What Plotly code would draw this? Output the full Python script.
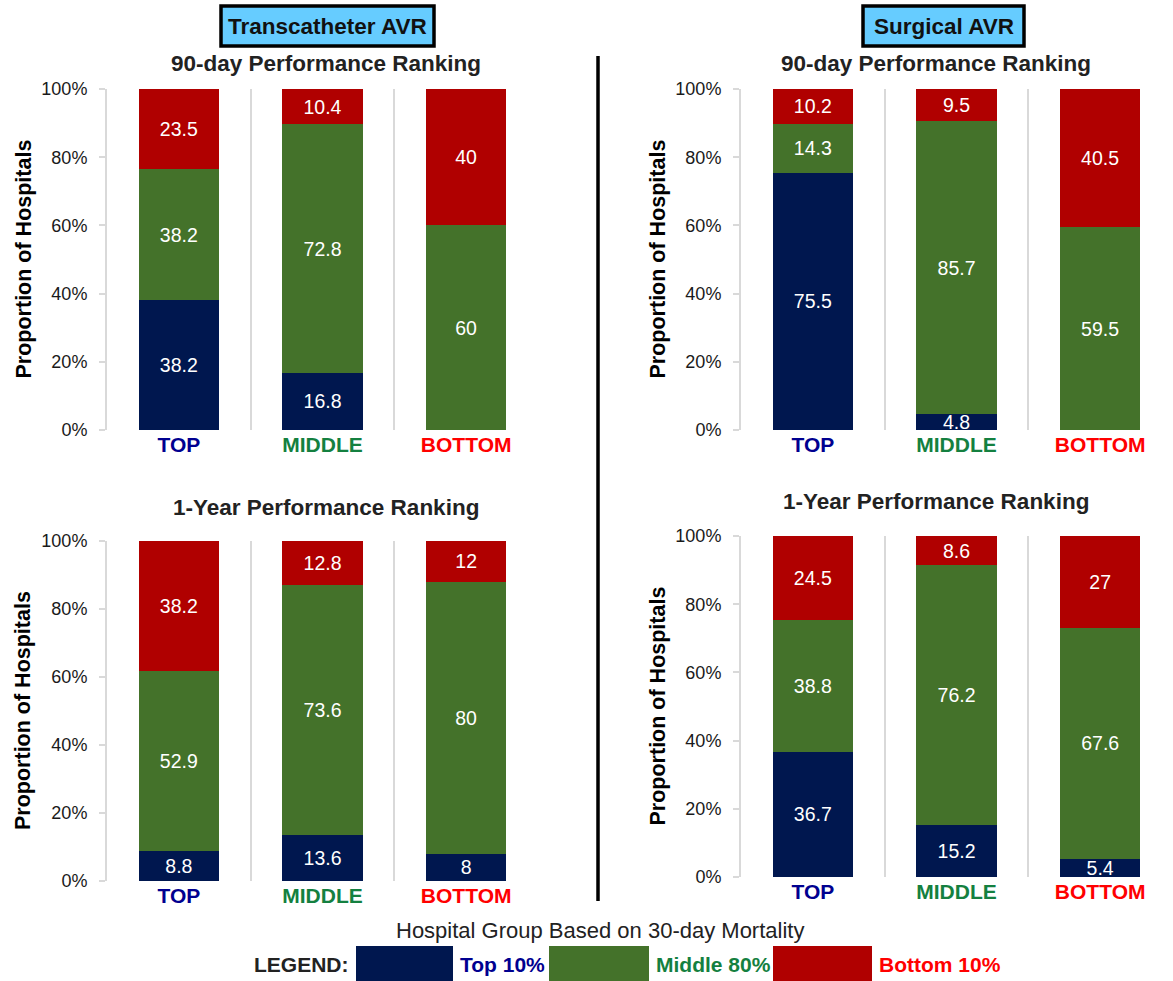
import plotly.graph_objects as go

W, H = 1173, 981

# ---------------- data ----------------
categories = ["TOP", "MIDDLE", "BOTTOM"]
category_colors = ["#000090", "#148040", "#FF0000"]
series_names = ["Top 10%", "Middle 80%", "Bottom 10%"]
series_colors = ["#00174F", "#44722A", "#B00000"]

# Transcatheter AVR, 90-day ranking (per group: Top, Middle, Bottom share)
tavr_90_top10 = [38.2, 16.8, 0]
tavr_90_mid80 = [38.2, 72.8, 60]
tavr_90_bot10 = [23.5, 10.4, 40]
# Transcatheter AVR, 1-year ranking
tavr_1y_top10 = [8.8, 13.6, 8]
tavr_1y_mid80 = [52.9, 73.6, 80]
tavr_1y_bot10 = [38.2, 12.8, 12]
# Surgical AVR, 90-day ranking
savr_90_top10 = [75.5, 4.8, 0]
savr_90_mid80 = [14.3, 85.7, 59.5]
savr_90_bot10 = [10.2, 9.5, 40.5]
# Surgical AVR, 1-year ranking
savr_1y_top10 = [36.7, 15.2, 5.4]
savr_1y_mid80 = [38.8, 76.2, 67.6]
savr_1y_bot10 = [24.5, 8.6, 27]

y_ticks = [0, 20, 40, 60, 80, 100]
y_ticklabels = ["0%", "20%", "40%", "60%", "80%", "100%"]
panel_titles = ["90-day Performance Ranking", "1-Year Performance Ranking"]
group_titles = ["Transcatheter AVR", "Surgical AVR"]
y_title = "Proportion of Hospitals"
legend_title = "Hospital Group Based on 30-day Mortality"
legend_lead = "LEGEND:"

FONT = "Liberation Sans, Arial, sans-serif"


def px(x):
    return x / W


def py(y):
    return 1 - y / H


# panel layout in pixels: (left, right, top, bottom)
panels = [
    dict(series=[tavr_90_top10, tavr_90_mid80, tavr_90_bot10], box=(107, 538, 89, 430),
         title=panel_titles[0], title_x=326, title_y=64, ytitle_x=23),
    dict(series=[savr_90_top10, savr_90_mid80, savr_90_bot10], box=(741, 1172, 89, 430),
         title=panel_titles[0], title_x=936, title_y=64, ytitle_x=657),
    dict(series=[tavr_1y_top10, tavr_1y_mid80, tavr_1y_bot10], box=(107, 538, 541, 881),
         title=panel_titles[1], title_x=326, title_y=507, ytitle_x=23),
    dict(series=[savr_1y_top10, savr_1y_mid80, savr_1y_bot10], box=(741, 1172, 536, 877),
         title=panel_titles[1], title_x=936, title_y=501, ytitle_x=657),
]

fig = go.Figure()
annotations = []
shapes = []

xpos = list(range(len(categories)))
ticktext = [f"<b><span style='color:{c}'>{t}</span></b>" for t, c in zip(categories, category_colors)]
GRID = "#D9D9D9"

for i, p in enumerate(panels, start=1):
    xa = "x" if i == 1 else f"x{i}"
    ya = "y" if i == 1 else f"y{i}"
    for name, color, vals in zip(series_names, series_colors, p["series"]):
        fig.add_trace(go.Bar(
            x=xpos, y=vals, name=name, marker=dict(color=color, line=dict(width=0)),
            text=[f"{v:g}" if v > 0 else "" for v in vals],
            textposition="inside", insidetextanchor="middle", textangle=0,
            textfont=dict(color="white", size=19.5, family=FONT),
            xaxis=xa, yaxis=ya, showlegend=False, hoverinfo="skip",
        ))
    l, r, t, b = p["box"]
    xkey = "xaxis" if i == 1 else f"xaxis{i}"
    ykey = "yaxis" if i == 1 else f"yaxis{i}"
    fig.update_layout(**{
        xkey: dict(
            domain=[px(l), px(r)], anchor=ya, range=[-0.5, len(categories) - 0.5],
            tickmode="array", tickvals=xpos, ticktext=ticktext,
            tickfont=dict(size=21, family=FONT), ticks="", showgrid=False,
            zeroline=False, showline=False, fixedrange=True, ticklabelstandoff=0,
            automargin=False,
            minor=dict(tickmode="array", tickvals=[k + 0.5 for k in xpos],
                       showgrid=True, gridcolor=GRID, gridwidth=2, ticks=""),
        ),
        ykey: dict(
            domain=[py(b), py(t)], anchor=xa, range=[0, 100],
            tickmode="array", tickvals=y_ticks, ticktext=y_ticklabels,
            tickfont=dict(size=18, family=FONT, color="#1a1a1a"),
            ticks="outside", ticklen=6, tickwidth=1.5, tickcolor=GRID,
            showline=True, linecolor=GRID, linewidth=2, showgrid=False,
            zeroline=False, fixedrange=True, ticklabelstandoff=8, automargin=False,
        ),
    })
    annotations.append(dict(
        text=f"<b>{p['title']}</b>", x=px(p["title_x"]), y=py(p["title_y"]),
        xref="paper", yref="paper", showarrow=False, xanchor="center", yanchor="middle",
        font=dict(size=22.5, family=FONT, color="#222222"),
    ))
    annotations.append(dict(
        text=f"<b>{y_title}</b>", x=px(p["ytitle_x"]), y=py((t + b) / 2),
        xref="paper", yref="paper", showarrow=False, xanchor="center", yanchor="middle",
        textangle=-90, font=dict(size=21.5, family=FONT, color="#000000"),
    ))

# group header boxes
headers = [(group_titles[0], 221, 434), (group_titles[1], 863, 1024)]
for text, x0, x1 in headers:
    shapes.append(dict(type="rect", xref="paper", yref="paper",
                       x0=px(x0), x1=px(x1), y0=py(46), y1=py(6),
                       fillcolor="#66CCFF", line=dict(color="black", width=3.5)))
    annotations.append(dict(
        text=f"<b>{text}</b>", x=px((x0 + x1) / 2), y=py(26), xref="paper", yref="paper",
        showarrow=False, xanchor="center", yanchor="middle",
        font=dict(size=22.5, family=FONT, color="#111111"),
    ))

# vertical divider
shapes.append(dict(type="line", xref="paper", yref="paper",
                   x0=px(598), x1=px(598), y0=py(901), y1=py(56),
                   line=dict(color="black", width=3.5)))

# custom legend
annotations.append(dict(
    text=legend_title, x=px(600), y=py(930), xref="paper", yref="paper",
    showarrow=False, xanchor="center", yanchor="middle",
    font=dict(size=22, family=FONT, color="#222222"),
))
annotations.append(dict(
    text=f"<b>{legend_lead}</b>", x=px(351), y=py(964), xref="paper", yref="paper",
    showarrow=False, xanchor="right", yanchor="middle",
    font=dict(size=21, family=FONT, color="#222222"),
))
legend_boxes = [(356, 453), (549, 649), (773, 872)]
legend_text_colors = ["#000090", "#148040", "#FF0000"]
for (x0, x1), name, fill, tc in zip(legend_boxes, series_names, series_colors, legend_text_colors):
    shapes.append(dict(type="rect", xref="paper", yref="paper",
                       x0=px(x0), x1=px(x1), y0=py(981), y1=py(946),
                       fillcolor=fill, line=dict(width=0)))
    annotations.append(dict(
        text=f"<b>{name}</b>", x=px(x1 + 5), y=py(964), xref="paper", yref="paper",
        showarrow=False, xanchor="left", yanchor="middle",
        font=dict(size=21, family=FONT, color=tc),
    ))

fig.update_layout(
    width=W, height=H, margin=dict(l=0, r=0, t=0, b=0, autoexpand=False),
    paper_bgcolor="white", plot_bgcolor="white",
    barmode="stack", bargap=0.44,
    uniformtext=dict(minsize=18, mode="show"),
    font=dict(family=FONT),
    annotations=annotations, shapes=shapes, showlegend=False,
)

fig.write_html("out.html")
